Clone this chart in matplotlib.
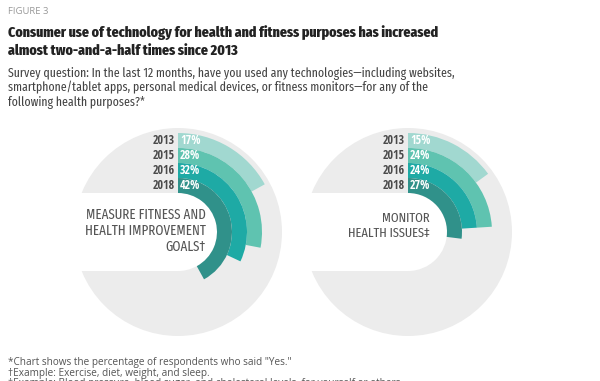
import matplotlib.pyplot as plt
from matplotlib.patches import Wedge, Circle, Rectangle

# Data (percent who said "Yes")
years = ['2013', '2015', '2016', '2018']
fitness_goals = [17, 28, 32, 42]
monitor_health = [15, 24, 24, 27]
ring_colors = ['#a1d8d0', '#5fc3b0', '#1eaaa5', '#30918a']

cond = ['Open Sans Condensed', 'DejaVu Sans']
xcond = ['Fira Sans Extra Condensed', 'DejaVu Sans']
body = ['Open Sans', 'DejaVu Sans']

fig = plt.figure(figsize=(6, 3.81), dpi=100)
ax = fig.add_axes([0, 0, 1, 1])
ax.set_xlim(0, 600)
ax.set_ylim(0, 381)
ax.set_aspect('equal')
ax.axis('off')
renderer = fig.canvas.get_renderer()

H = 381


def fit(t, width):
    # scale a text's font size so it spans the given width in pixels
    w = t.get_window_extent(renderer).width
    t.set_fontsize(t.get_fontsize() * width / w)


def donut(cx, cy, values):
    r_out = 99
    w = 15
    ax.add_patch(Circle((cx, cy), 104, color='#ececec', lw=0))
    # white slot cut from the middle to the left edge
    r_in = r_out - w * len(values)
    ax.add_patch(Rectangle((cx - 120, cy - r_in), 120, 2 * r_in, color='white', lw=0))
    ax.add_patch(Circle((cx, cy), r_in, color='white', lw=0))
    for i, (yr, v) in enumerate(zip(years, values)):
        r = r_out - i * w
        ax.add_patch(Wedge((cx, cy), r, 90 - 360 * v / 100, 90, width=w,
                           color=ring_colors[i], lw=0))
        ym = cy + r - w / 2
        ax.text(cx - 3, ym, yr, ha='right', va='center', fontsize=8.7,
                fontweight='bold', color='#4a4a4a', family=cond)
        ax.text(cx + 2, ym, f'{v}%', ha='left', va='center', fontsize=8.7,
                fontweight='bold', color='white', family=cond)


def label(x, ys, lines, ref, width):
    ts = [ax.text(x, H - y, s, ha='right', va='center', fontsize=12,
                  fontweight='normal', color='#555555', family=xcond)
          for y, s in zip(ys, lines)]
    fit(ts[ref], width)
    for t in ts:
        t.set_fontsize(ts[ref].get_fontsize())


donut(178, H - 232, fitness_goals)
donut(408, H - 232, monitor_health)
label(206, [215, 231, 247], ['MEASURE FITNESS AND', 'HEALTH IMPROVEMENT', 'GOALS\u2020'], 0, 119)
label(430, [218, 233], ['MONITOR', 'HEALTH ISSUES\u2021'], 1, 82)

ax.text(8, H - 12, 'FIGURE 3', fontsize=6.8, color='#999999', family=body, va='center')
t1 = ax.text(8, H - 33, 'Consumer use of technology for health and fitness purposes has increased',
             fontsize=13, fontweight='heavy', color='#222222', family=xcond, va='center')
fit(t1, 434)
ax.text(8, H - 51, 'almost two-and-a-half times since 2013',
        fontsize=t1.get_fontsize(), fontweight='heavy', color='#222222', family=xcond, va='center')

sub = ['Survey question: In the last 12 months, have you used any technologies\u2014including websites,',
       'smartphone/tablet apps, personal medical devices, or fitness monitors\u2014for any of the',
       'following health purposes?*']
ts = [ax.text(8, H - 73 - 14.7 * i, s, fontsize=9.5, fontweight='normal', color='#444444',
              family=xcond, va='center') for i, s in enumerate(sub)]
fit(ts[0], 444)
for t in ts[1:]:
    t.set_fontsize(ts[0].get_fontsize())

notes = ['*Chart shows the percentage of respondents who said "Yes."',
         '\u2020Example: Exercise, diet, weight, and sleep.',
         '\u2021Example: Blood pressure, blood sugar, and cholesterol levels, for yourself or others.']
for i, s in enumerate(notes):
    ax.text(8, H - 363 - 10.3 * i, s, fontsize=7.2, color='#555555', family=body, va='center')

fig.savefig('out.png', dpi=100)
